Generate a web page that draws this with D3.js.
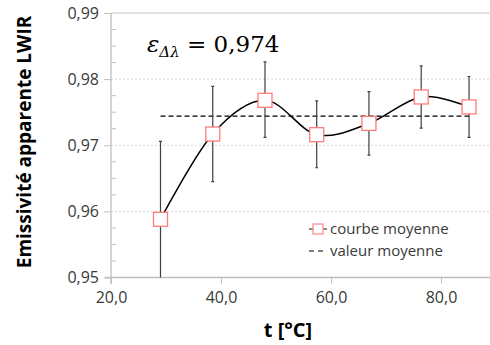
<!DOCTYPE html>
<html>
<head>
<meta charset="utf-8">
<script src="https://cdn.jsdelivr.net/npm/d3@7"></script>
<style>
  html, body { margin: 0; padding: 0; background: #fff; }
  svg { display: block; font-family: "Open Sans", sans-serif; }
</style>
</head>
<body>
<div id="container"></div>
<script>
// data
const temps = [29.0, 38.5, 48.0, 57.4, 66.9, 76.4, 85.1];
const emis = [0.9588, 0.9717, 0.9768, 0.9716, 0.9733, 0.9773, 0.9758];
const errTop = [0.9706, 0.9789, 0.9826, 0.9767, 0.9781, 0.9820, 0.9804];
const errBottom = [0.9470, 0.9645, 0.9712, 0.9666, 0.9685, 0.9726, 0.9712];
const meanValue = 0.9744;
const yTicks = [0.95, 0.96, 0.97, 0.98, 0.99];
const xTicks = [20, 40, 60, 80];
const legendLabels = ['courbe moyenne', 'valeur moyenne'];

const width = 490, height = 345;
const fmt = (v, d) => v.toFixed(d).replace('.', ',');

const svg = d3.select('#container').append('svg')
    .attr('width', width)
    .attr('height', height);

const x = d3.scaleLinear().domain([20, 90]).range([111, 496]);
const y = d3.scaleLinear().domain([0.95, 0.99]).range([277.5, 13]);

// clip for plot area
svg.append('clipPath').attr('id', 'plot')
    .append('rect').attr('x', 111).attr('y', 0).attr('width', 380).attr('height', 277.5);

// gridlines
svg.append('g').selectAll('line')
    .data(yTicks.filter(d => d > 0.95))
    .join('line')
    .attr('x1', 111).attr('x2', width)
    .attr('y1', d => y(d)).attr('y2', d => y(d))
    .attr('stroke', d => d === 0.99 ? '#c8c8c8' : '#d9d9d9')
    .attr('stroke-width', d => d === 0.99 ? 1.2 : 1)
    .attr('stroke-dasharray', d => d === 0.99 ? null : '2,2');

// y axis
const yAxis = svg.append('g').attr('transform', 'translate(111,0)')
    .call(d3.axisLeft(y).tickValues(yTicks).tickSize(7).tickFormat(d => fmt(d, 2)));
yAxis.select('.domain').attr('d', 'M0,13V284').attr('stroke', '#bfbfbf').attr('stroke-width', 1.3);
yAxis.selectAll('.tick line').attr('stroke', '#bfbfbf');
yAxis.selectAll('.tick text').attr('x', -12).attr('font-size', 16)
    .attr('font-family', 'Open Sans').attr('fill', '#3a3a3a');

// minor y ticks
svg.append('g').selectAll('line')
    .data(d3.range(0.95, 0.9901, 0.0025).filter((d, i) => i % 4 !== 0))
    .join('line')
    .attr('x1', 111).attr('x2', 116)
    .attr('y1', d => y(d)).attr('y2', d => y(d))
    .attr('stroke', '#bfbfbf');

// x axis
const xAxis = svg.append('g').attr('transform', 'translate(0,277.5)')
    .call(d3.axisBottom(x).tickValues(xTicks).tickSize(6).tickFormat(d => fmt(d, 1)));
xAxis.select('.domain').attr('d', 'M105,0H' + width).attr('stroke', '#bfbfbf').attr('stroke-width', 1.5);
xAxis.selectAll('.tick line').attr('stroke', '#bfbfbf');
xAxis.selectAll('.tick text').attr('y', 14).attr('font-size', 16)
    .attr('font-family', 'Open Sans').attr('fill', '#3a3a3a');

// axis titles
svg.append('text')
    .attr('transform', 'translate(31,142) rotate(-90)')
    .attr('text-anchor', 'middle')
    .attr('font-size', 19).attr('font-weight', 'bold')
    .attr('fill', '#000')
    .text('Emissivité apparente LWIR');

svg.append('text')
    .attr('x', 288).attr('y', 337)
    .attr('text-anchor', 'middle')
    .attr('font-size', 20).attr('font-weight', 'bold')
    .attr('fill', '#000')
    .text('t [°C]');

const plot = svg.append('g').attr('clip-path', 'url(#plot)');

// mean value dashed line
plot.append('line')
    .attr('x1', x(temps[0])).attr('x2', x(temps[temps.length - 1]))
    .attr('y1', y(meanValue)).attr('y2', y(meanValue))
    .attr('stroke', '#000').attr('stroke-width', 1.3)
    .attr('stroke-dasharray', '5,3');

// error bars
const pts = temps.map((t, i) => ({ t, v: emis[i], lo: errBottom[i], hi: errTop[i] }));
const eb = plot.append('g').attr('stroke', '#404040').attr('stroke-width', 1.2);
eb.selectAll('line.v').data(pts).join('line').attr('class', 'v')
    .attr('x1', d => x(d.t)).attr('x2', d => x(d.t))
    .attr('y1', d => y(d.hi)).attr('y2', d => y(d.lo));
eb.selectAll('line.cap').data(pts.flatMap(d => [[d.t, d.hi], [d.t, d.lo]]))
    .join('line').attr('class', 'cap')
    .attr('x1', d => x(d[0]) - 1.5).attr('x2', d => x(d[0]) + 1.5)
    .attr('y1', d => y(d[1])).attr('y2', d => y(d[1]));

// smooth mean curve
const line = d3.line()
    .x(d => x(d.t)).y(d => y(d.v))
    .curve(d3.curveCardinal.tension(0));
plot.append('path')
    .datum(pts)
    .attr('d', line)
    .attr('fill', 'none')
    .attr('stroke', '#000')
    .attr('stroke-width', 1.5);

// markers
plot.selectAll('rect.mk').data(pts).join('rect').attr('class', 'mk')
    .attr('x', d => x(d.t) - 7).attr('y', d => y(d.v) - 7)
    .attr('width', 14).attr('height', 14)
    .attr('fill', '#fff')
    .attr('stroke', '#ff7b7b').attr('stroke-width', 1.3);

// epsilon annotation
const eps = svg.append('text')
    .attr('x', 147).attr('y', 52)
    .attr('font-family', 'DejaVu Serif, serif')
    .attr('font-size', 23)
    .attr('fill', '#000');
eps.append('tspan').attr('font-style', 'italic').text('ε');
eps.append('tspan').attr('font-size', 15).attr('dy', 5).attr('font-style', 'italic').text('Δλ');
eps.append('tspan').attr('dy', -5).text(' = 0,974');

// legend
const lg = svg.append('g');
lg.append('line').attr('x1', 309).attr('x2', 327).attr('y1', 229).attr('y2', 229)
    .attr('stroke', '#404040').attr('stroke-width', 1.2);
lg.append('rect').attr('x', 313).attr('y', 224).attr('width', 10).attr('height', 10)
    .attr('fill', '#fff').attr('stroke', '#ff7b7b').attr('stroke-width', 1.1);
lg.append('line').attr('x1', 309).attr('x2', 327).attr('y1', 251).attr('y2', 251)
    .attr('stroke', '#000').attr('stroke-width', 1.2).attr('stroke-dasharray', '5,4');
lg.selectAll('text').data(legendLabels).join('text')
    .attr('x', 330).attr('y', (d, i) => 234 + i * 22)
    .attr('font-size', 15).attr('fill', '#3a3a3a')
    .text(d => d);
</script>
</body>
</html>
